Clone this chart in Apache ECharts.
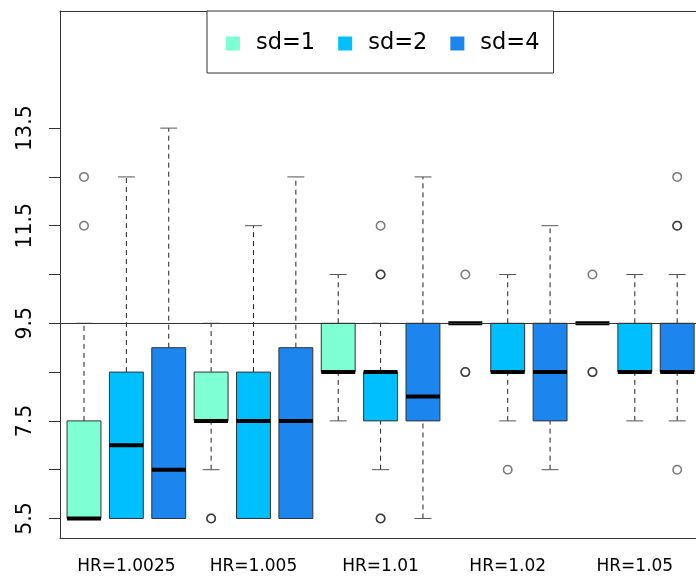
<!DOCTYPE html>
<html><head><meta charset="utf-8">
<script src="https://cdn.jsdelivr.net/npm/echarts@6/dist/echarts.min.js"></script>
<style>html,body{margin:0;padding:0;background:#fff}#c{width:696px;height:579px}</style>
</head><body><div id="c"></div>
<script>
// ---- data ----
const categories = ['HR=1.0025', 'HR=1.005', 'HR=1.01', 'HR=1.02', 'HR=1.05'];
const seriesNames = ['sd=1', 'sd=2', 'sd=4'];
// [lower whisker, Q1, median, Q3, upper whisker] per category
const sd1Stats = [
  [5.5, 5.5, 5.5, 7.5, 9.5],
  [6.5, 7.5, 7.5, 8.5, 9.5],
  [7.5, 8.5, 8.5, 9.5, 10.5],
  [9.5, 9.5, 9.5, 9.5, 9.5],
  [9.5, 9.5, 9.5, 9.5, 9.5]
];
const sd2Stats = [
  [5.5, 5.5, 7.0, 8.5, 12.5],
  [5.5, 5.5, 7.5, 8.5, 11.5],
  [6.5, 7.5, 8.5, 8.5, 9.5],
  [7.5, 8.5, 8.5, 9.5, 10.5],
  [7.5, 8.5, 8.5, 9.5, 10.5]
];
const sd4Stats = [
  [5.5, 5.5, 6.5, 9.0, 13.5],
  [5.5, 5.5, 7.5, 9.0, 12.5],
  [5.5, 7.5, 8.0, 9.5, 12.5],
  [6.5, 7.5, 8.5, 9.5, 11.5],
  [7.5, 8.5, 8.5, 9.5, 10.5]
];
// outliers: [category index, value] (repeated values = overplotted points)
const sd1Outliers = [[0, 11.5], [0, 12.5], [1, 5.5], [1, 5.5], [3, 10.5], [3, 8.5], [3, 8.5], [4, 10.5], [4, 8.5], [4, 8.5]];
const sd2Outliers = [[2, 11.5], [2, 10.5], [2, 10.5], [2, 5.5], [2, 5.5], [3, 6.5]];
const sd4Outliers = [[4, 12.5], [4, 11.5], [4, 11.5], [4, 6.5]];
const yTickValues = [5.5, 6.5, 7.5, 8.5, 9.5, 10.5, 11.5, 12.5, 13.5];
const yLabelValues = [5.5, 7.5, 9.5, 11.5, 13.5];
const refLineValue = 9.5;

// ---- build ----
const colors = ['#7FFFD4', '#00BFFF', '#1C86EE'];
const allStats = [sd1Stats, sd2Stats, sd4Stats];
const allOutliers = [sd1Outliers, sd2Outliers, sd4Outliers];
const nSer = seriesNames.length;
const posOf = (g, s) => g * nSer + s + 1;
const labelPositions = categories.map((c, g) => posOf(g, 1));
const FONT = 'DejaVu Sans';

function renderBox(params, api) {
  const x = api.value(0);
  const P = [1, 2, 3, 4, 5].map(i => api.coord([x, api.value(i)]));
  const cx = P[0][0];
  const bw = api.size([0.8, 0])[0];
  const sw = api.size([0.4, 0])[0];
  const dash = { stroke: '#222', lineWidth: 1, lineDash: [5, 4] };
  const staple = { stroke: '#555', lineWidth: 1 };
  return {
    type: 'group',
    children: [
      { type: 'line', shape: { x1: cx, y1: P[3][1], x2: cx, y2: P[4][1] }, style: dash },
      { type: 'line', shape: { x1: cx, y1: P[0][1], x2: cx, y2: P[1][1] }, style: dash },
      { type: 'line', shape: { x1: cx - sw / 2, y1: P[4][1], x2: cx + sw / 2, y2: P[4][1] }, style: staple },
      { type: 'line', shape: { x1: cx - sw / 2, y1: P[0][1], x2: cx + sw / 2, y2: P[0][1] }, style: staple },
      { type: 'rect', shape: { x: cx - bw / 2, y: P[3][1], width: bw, height: P[1][1] - P[3][1] },
        style: { fill: api.visual('color'), stroke: '#333', lineWidth: 1 } },
      { type: 'line', shape: { x1: cx - bw / 2, y1: P[2][1], x2: cx + bw / 2, y2: P[2][1] },
        style: { stroke: '#000', lineWidth: 4 } }
    ]
  };
}

const series = [];
series.push({
  type: 'line', name: 'ref', data: [], z: 1, silent: true,
  markLine: {
    silent: true, symbol: 'none', label: { show: false },
    lineStyle: { color: '#333', width: 1, type: 'solid' },
    data: [{ yAxis: refLineValue }]
  }
});
seriesNames.forEach((name, s) => {
  series.push({
    type: 'custom', name: name, z: 3,
    itemStyle: { color: colors[s] },
    renderItem: renderBox,
    encode: { x: 0, y: [1, 2, 3, 4, 5] },
    data: allStats[s].map((st, g) => [posOf(g, s)].concat(st))
  });
});
seriesNames.forEach((name, s) => {
  series.push({
    type: 'scatter', name: 'out' + s, z: 4, symbol: 'circle', symbolSize: 8.5,
    itemStyle: { color: 'rgba(0,0,0,0)', borderColor: 'rgba(0,0,0,0.65)', borderWidth: 1.5 },
    data: allOutliers[s].map(o => [posOf(o[0], s), o[1]])
  });
});

const chart = echarts.init(document.getElementById('c'), null, { renderer: 'canvas' });
chart.setOption({
  animation: false,
  backgroundColor: '#fff',
  textStyle: { fontFamily: FONT },
  grid: { left: 60, right: 0, top: 11, bottom: 41 },
  legend: {
    data: seriesNames, icon: 'rect', itemWidth: 14, itemHeight: 14, itemGap: 23,
    left: 207, top: 11,
    padding: [21, 14, 18, 19],
    borderColor: '#333', borderWidth: 1, backgroundColor: '#fff',
    textStyle: { fontFamily: FONT, fontSize: 22.5, color: '#000', padding: [0, 0, 0, 11] }
  },
  xAxis: [{
    type: 'value', min: 0.4336, max: 15.444, position: 'bottom',
    axisLine: { show: true, onZero: false, lineStyle: { color: '#333', width: 1 } },
    axisTick: { show: false },
    splitLine: { show: false },
    axisLabel: {
      customValues: labelPositions, margin: 20, fontSize: 17, color: '#000', fontFamily: FONT,
      formatter: v => categories[labelPositions.indexOf(v)] || ''
    }
  }, {
    type: 'value', min: 0.4336, max: 15.444, position: 'top',
    axisLine: { show: true, onZero: false, lineStyle: { color: '#333', width: 1 } },
    axisTick: { show: false }, axisLabel: { show: false }, splitLine: { show: false }
  }],
  yAxis: {
    type: 'value', min: 5.1, max: 15.9,
    axisLine: { show: true, lineStyle: { color: '#333', width: 1 } },
    axisTick: { show: true, length: 11, customValues: yTickValues, lineStyle: { color: '#333' } },
    splitLine: { show: false },
    axisLabel: { customValues: yLabelValues, rotate: 90, margin: 24, fontSize: 20.5, color: '#000', fontFamily: FONT,
      formatter: v => v.toFixed(1) }
  },
  series: series
});
</script>
</body></html>
